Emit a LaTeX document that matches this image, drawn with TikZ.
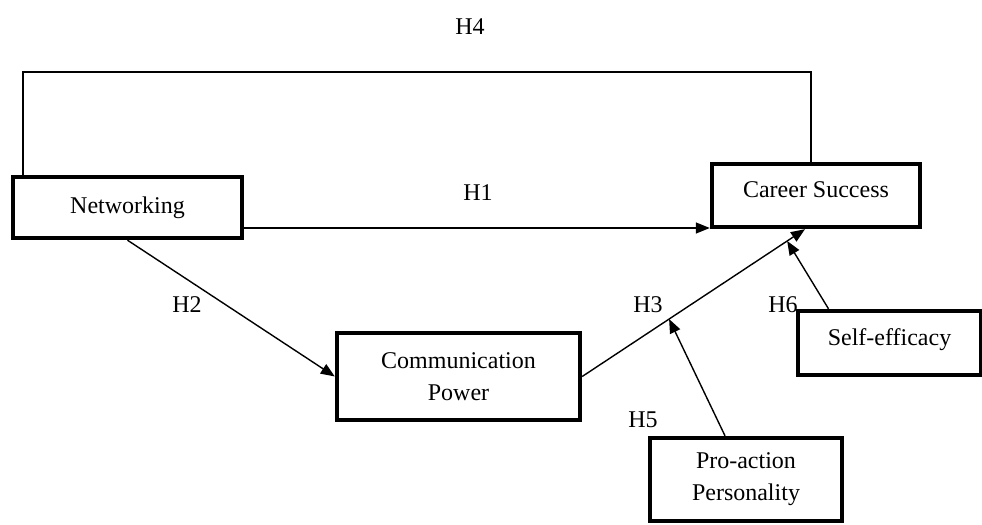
\documentclass[tikz,border=0pt]{standalone}
\usepackage{fontspec}
\setmainfont{Liberation Serif}
\usetikzlibrary{arrows.meta}
\tikzset{
  box/.style={draw,line width=2.2pt,align=center,inner sep=0pt,font=\fontsize{12}{16}\selectfont},
  raised/.style={text height=8.5pt,text depth=6.5pt},
  hyp/.style={font=\fontsize{12}{14}\selectfont},
  link/.style={line width=0.7pt,-{Triangle[length=7pt,width=5.5pt]}}
}
\begin{document}
\begin{tikzpicture}[x=0.5pt,y=-0.5pt]
  \useasboundingbox (0,0) rectangle (982,525);
  % boxes
  \node[box,minimum width=114.5pt,minimum height=30.5pt] (net) at (127.5,207.5) {Networking};
  \node[box,raised,minimum width=104pt,minimum height=31.5pt] (career) at (816,195.5) {Career Success};
  \node[box,minimum width=121.5pt,minimum height=43.5pt] (comm) at (458.5,376.5) {Communication\\Power};
  \node[box,raised,minimum width=91.5pt,minimum height=32pt] (self) at (889.5,343) {Self-efficacy};
  \node[box,minimum width=96pt,minimum height=41.5pt] (pro) at (746,479.5) {Pro-action\\Personality};
  % paths
  \draw[line width=0.7pt] ([xshift=6pt]net.north west) -- ++(0,-103) -| ([xshift=-2.5pt]career.north);
  \draw[link] (net.east |- 0,228) -- (career.west |- 0,228);
  \draw[link] (net.south) -- (comm.west);
  \draw[link] (comm.east) -- ([xshift=-5.5pt]career.south)
    coordinate[pos=0.39] (h5end) coordinate[pos=0.92] (h6end);
  \draw[link] ([xshift=-10.5pt]pro.north) -- (h5end);
  \draw[link] ([xshift=-30.5pt]self.north) -- (h6end);
  % labels
  \node[hyp] (h4) at (470,27) {H4};
  \node[hyp] (h1) at (478,193) {H1};
  \node[hyp] (h2) at (187,305) {H2};
  \node[hyp] (h3) at (648,305) {H3};
  \node[hyp] (h5) at (643,420) {H5};
  \node[hyp] (h6) at (783,305) {H6};
\end{tikzpicture}
\end{document}
